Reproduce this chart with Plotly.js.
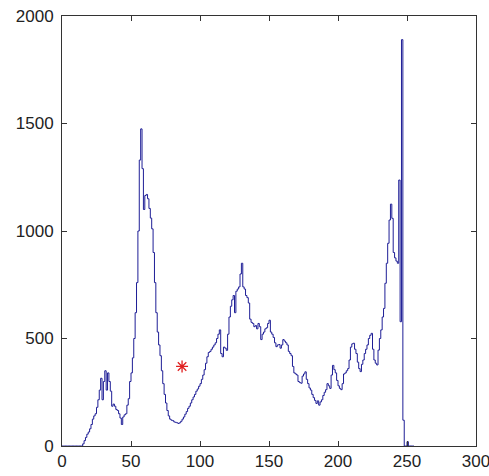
<!DOCTYPE html>
<html>
<head>
<meta charset="utf-8">
<script src="https://cdn.plot.ly/plotly-3.0.1.min.js"></script>
<style>html,body{margin:0;padding:0;background:#fff;overflow:hidden;}#chart{width:489px;height:476px;}</style>
</head>
<body>
<div id="chart"></div>
<script>
// Histogram counts for grey levels 0..255
const counts = [
  0,0,0,0,0,0,0,0,0,0, 0,0,0,0,0,10,25,40,55,65,
  80,100,125,140,150,180,215,260,315,215, 300,350,260,340,300,255,185,195,185,170,
  165,150,130,100,135,145,150,190,220,300, 340,410,500,620,760,1000,1330,1475,1290,1100,
  1165,1170,1150,1105,1060,1010,900,760,620,530, 470,420,350,290,240,200,165,140,125,120,
  118,112,110,108,105,108,115,125,135,148, 160,175,185,200,215,228,240,255,265,278,
  290,310,330,355,385,415,435,440,450,460, 470,480,500,520,540,430,415,460,455,445,
  520,600,650,680,700,620,720,730,740,800, 850,740,730,700,690,665,590,575,570,555,
  560,545,570,555,495,520,530,545,550,570, 585,530,520,505,480,462,470,472,455,470,
  495,488,480,470,440,430,420,370,340,335, 330,300,295,292,325,335,345,310,290,270,
  260,240,225,212,198,210,190,205,215,235, 250,262,290,280,268,330,375,355,340,305,
  280,268,262,290,335,340,350,360,400,460, 475,478,450,430,390,360,346,380,400,430,
  450,470,500,515,524,450,400,385,377,446, 500,540,600,640,757,850,943,1051,1125,1059,
  900,875,860,850,1237,578,1890,120,0,0, 20,0,0,0,0,0
];
const levels = counts.map((_, i) => i);

// Marked threshold point
const markX = [87];
const markY = [370];

const xTicks = [0, 50, 100, 150, 200, 250, 300];
const yTicks = [0, 500, 1000, 1500, 2000];

const traces = [
  {
    x: levels, y: counts, type: 'scatter', mode: 'lines',
    line: {color: '#1e1e96', width: 1, shape: 'hv'}, hoverinfo: 'skip'
  },
  {
    x: markX, y: markY, type: 'scatter', mode: 'markers',
    marker: {symbol: 'asterisk-open', size: 10, color: '#e02020', line: {color: '#e02020', width: 1.3}},
    hoverinfo: 'skip'
  }
];

const axisCommon = {
  showline: true, linecolor: '#333', linewidth: 1, mirror: 'ticks',
  ticks: 'inside', ticklen: 5, tickwidth: 1, tickcolor: '#333',
  showgrid: false, zeroline: false, ticklabeloverflow: 'allow',
  tickfont: {family: 'Liberation Sans, Arial, sans-serif', size: 17, color: '#222'}
};

const layout = {
  width: 489, height: 476,
  margin: {l: 62, r: 13, t: 16, b: 30, pad: 0},
  paper_bgcolor: '#fff', plot_bgcolor: '#fff',
  showlegend: false,
  xaxis: Object.assign({}, axisCommon, {range: [0, 300], tickvals: xTicks, ticktext: xTicks.map(String)}),
  yaxis: Object.assign({}, axisCommon, {range: [0, 2000], tickvals: yTicks, ticktext: yTicks.map(String), ticklabelstandoff: 4})
};

Plotly.newPlot('chart', traces, layout, {displayModeBar: false, staticPlot: true});
</script>
</body>
</html>
